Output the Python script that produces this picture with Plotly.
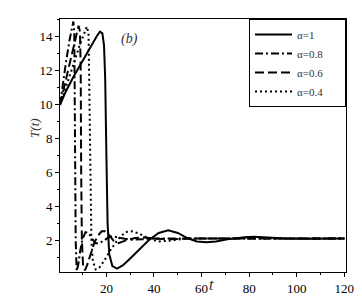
import plotly.graph_objects as go

# alpha = 1 (solid)
t1 = [0.5, 3, 6, 9, 12, 14, 16, 17.3, 18.3, 19.0, 19.5, 20.0, 20.5, 21.2, 22.5, 24.5, 27, 30, 34, 38, 42, 46, 50, 54, 58, 62, 66, 72, 78, 82, 88, 95, 105, 120]
T1 = [10, 10.8, 11.6, 12.35, 13.1, 13.6, 14.05, 14.3, 14.2, 13.5, 11.5, 7, 3, 1.2, 0.5, 0.35, 0.55, 0.95, 1.5, 2.05, 2.45, 2.6, 2.45, 2.15, 1.95, 1.9, 1.95, 2.1, 2.2, 2.22, 2.18, 2.12, 2.11, 2.12]

# alpha = 0.8 (dash-dot)
t2 = [0.5, 1.5, 3, 4.5, 5.5, 6.1, 6.5, 6.8, 7.1, 7.5, 8.2, 9, 10, 11.2, 12.5, 14, 15.5, 17, 19, 21, 23, 26, 30, 35, 40, 50, 120]
T2 = [10, 11.1, 12.5, 13.8, 14.6, 14.9, 14.3, 8, 2, 0.2, 0.6, 1.4, 2.1, 2.5, 2.45, 2.1, 1.85, 1.85, 2.0, 2.2, 2.25, 2.15, 2.05, 2.08, 2.12, 2.12, 2.12]

# alpha = 0.6 (dashed)
t3 = [0.5, 2, 4, 6, 7.5, 8.3, 8.9, 9.2, 9.4, 9.7, 10.2, 11, 12, 13.5, 15, 16.5, 18, 19.5, 21, 23, 25, 28, 32, 36, 40, 46, 55, 120]
T3 = [10, 10.9, 12.1, 13.3, 14.2, 14.65, 14.3, 12, 6, 2, 0.5, 0.25, 0.6, 1.3, 1.9, 2.3, 2.55, 2.55, 2.35, 2.0, 1.85, 2.0, 2.15, 2.18, 2.12, 2.08, 2.12, 2.12]

# alpha = 0.4 (dotted)
t4 = [0.5, 3, 6, 9, 11, 11.8, 12.5, 13.0, 13.3, 13.7, 14.3, 15.5, 17, 19, 22, 25, 28, 31, 34, 38, 42, 47, 52, 60, 120]
T4 = [10, 11.0, 12.3, 13.6, 14.4, 14.6, 14.2, 10, 5, 2, 0.8, 0.3, 0.4, 0.8, 1.5, 2.1, 2.5, 2.55, 2.4, 2.1, 1.95, 2.0, 2.1, 2.12, 2.12]

names = ["α=1", "α=0.8", "α=0.6", "α=0.4"]
dashes = ["solid", "8px,3px,2px,3px", "9px,4px", "2px,3px"]
xticks = [20, 40, 60, 80, 100, 120]
yticks = [2, 4, 6, 8, 10, 12, 14]

serif = "Liberation Serif"
pad = "\u00a0" * 6
fig = go.Figure()
for t, T, n, d in zip([t1, t2, t3, t4], [T1, T2, T3, T4], names, dashes):
    fig.add_trace(go.Scatter(x=t, y=T, mode="lines", name=n + pad,
                             line=dict(color="black", width=2, dash=d)))

axis_common = dict(showline=True, linecolor="black", linewidth=1, mirror=True,
                   ticks="outside", ticklen=4, tickcolor="black", showgrid=False,
                   zeroline=False, tickfont=dict(family=serif, size=13, color="black"))
fig.update_xaxes(range=[0.5, 120.7], tickvals=xticks,
                 minor=dict(ticks="outside", ticklen=2, dtick=10, tick0=0, tickcolor="black"),
                 **axis_common)
fig.update_yaxes(range=[0.15, 15.05], tickvals=yticks,
                 minor=dict(ticks="outside", ticklen=2, dtick=1, tick0=0, tickcolor="black"),
                 **axis_common)

fig.update_layout(
    width=362, height=298,
    margin=dict(l=52, r=24, t=10, b=29),
    paper_bgcolor="white", plot_bgcolor="white",
    showlegend=True,
    legend=dict(x=1, xanchor="right", y=1, yanchor="top",
                bgcolor="white", bordercolor="black", borderwidth=1,
                font=dict(family=serif, size=11, color="#333"),
                tracegroupgap=0, itemwidth=37),
    annotations=[
        dict(text="<i>t</i>", xref="paper", yref="paper", x=0.53, y=-0.09,
             showarrow=False, font=dict(family=serif, size=16, color="#333")),
        dict(text="<i>T(t)</i>", xref="paper", yref="paper", x=-0.122, y=0.568,
             showarrow=False, textangle=-90, font=dict(family=serif, size=13, color="#333")),
        dict(text="<i>(b)</i>", xref="paper", yref="paper", x=0.206, y=0.961,
             showarrow=False, font=dict(family=serif, size=14, color="#333")),
    ],
)
fig.write_html("out.html")
